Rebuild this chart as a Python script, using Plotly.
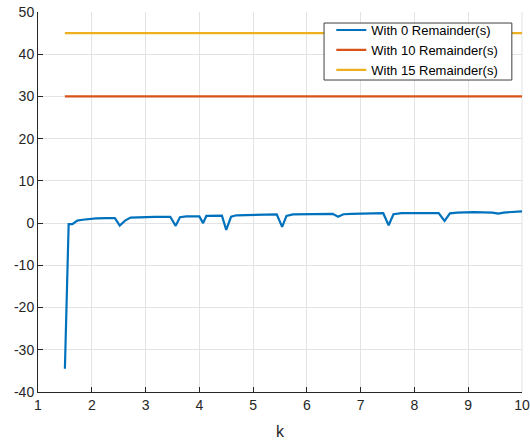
import plotly.graph_objects as go

# Data
k_blue = [1.5, 1.57, 1.64, 1.73, 1.83, 1.93, 2.08, 2.28, 2.43, 2.52, 2.62, 2.72, 2.87,
          3.17, 3.46, 3.56, 3.64, 3.76, 4.0, 4.07, 4.13, 4.42, 4.5, 4.59, 4.69, 4.94,
          5.44, 5.54, 5.62, 5.74, 5.93, 6.23, 6.48, 6.58, 6.68, 6.83, 7.12, 7.42, 7.52,
          7.61, 7.76, 8.1, 8.45, 8.56, 8.66, 8.8, 9.1, 9.45, 9.56, 9.66, 10.0]
v_blue = [-34.5, -0.25, -0.25, 0.6, 0.8, 0.95, 1.1, 1.2, 1.2, -0.6, 0.6, 1.3, 1.4,
          1.5, 1.5, -0.65, 1.4, 1.6, 1.6, 0.0, 1.7, 1.75, -1.6, 1.5, 1.85, 1.9,
          2.05, -0.9, 1.7, 2.05, 2.1, 2.2, 2.2, 1.5, 2.1, 2.2, 2.3, 2.35, -0.5,
          2.1, 2.35, 2.4, 2.4, 0.55, 2.3, 2.5, 2.6, 2.5, 2.25, 2.5, 2.8]
k_const = [1.5, 10.0]
v_10 = [30, 30]
v_15 = [45, 45]

series_names = ["With 0 Remainder(s)", "With 10 Remainder(s)", "With 15 Remainder(s)"]
x_ticks = [1, 2, 3, 4, 5, 6, 7, 8, 9, 10]
y_ticks = [-40, -30, -20, -10, 0, 10, 20, 30, 40, 50]

colors = ["#0072BD", "#D95319", "#EDB120"]

fig = go.Figure()
fig.add_trace(go.Scatter(x=k_blue, y=v_blue, mode="lines", name=series_names[0],
                         line=dict(color=colors[0], width=2.2)))
fig.add_trace(go.Scatter(x=k_const, y=v_10, mode="lines", name=series_names[1],
                         line=dict(color=colors[1], width=2.2)))
fig.add_trace(go.Scatter(x=k_const, y=v_15, mode="lines", name=series_names[2],
                         line=dict(color=colors[2], width=2.2)))

font_family = "Liberation Sans, Arial, sans-serif"
fig.update_layout(
    width=530, height=442,
    margin=dict(l=38, r=8, t=12, b=50),
    paper_bgcolor="white", plot_bgcolor="white",
    font=dict(family=font_family, size=14, color="#262626"),
    showlegend=True,
    legend=dict(x=0.606, y=0.992, xanchor="left", yanchor="top",
                bgcolor="rgba(0,0,0,0)", borderwidth=0,
                font=dict(family=font_family, size=13, color="#000000"),
                tracegroupgap=0),
    xaxis=dict(range=[1, 10], tickvals=x_ticks, ticktext=[str(t) for t in x_ticks],
               showgrid=True, gridcolor="#e3e3e3", gridwidth=1,
               showline=True, linecolor="#262626", linewidth=1,
               ticks="inside", ticklen=5, tickcolor="#262626",
               zeroline=False, mirror=False, automargin=False,
               title=dict(text="k", font=dict(size=16, color="#262626"), standoff=14)),
    yaxis=dict(range=[-40, 50], tickvals=y_ticks, ticktext=[str(t) for t in y_ticks],
               showgrid=True, gridcolor="#e3e3e3", gridwidth=1,
               showline=True, linecolor="#262626", linewidth=1,
               ticks="inside", ticklen=5, tickcolor="#262626",
               zeroline=False, mirror=False, automargin=False),
)
# right border of the axes box (light, like the grid)
fig.add_shape(type="line", xref="paper", yref="paper", x0=1, x1=1, y0=0, y1=1,
              line=dict(color="#e3e3e3", width=1), layer="below")
# legend box
fig.add_shape(type="rect", xref="paper", yref="paper", x0=0.591, x1=0.979, y0=0.821, y1=0.971,
              line=dict(color="#404040", width=1), fillcolor="white", layer="above")

fig.write_html("out.html")
